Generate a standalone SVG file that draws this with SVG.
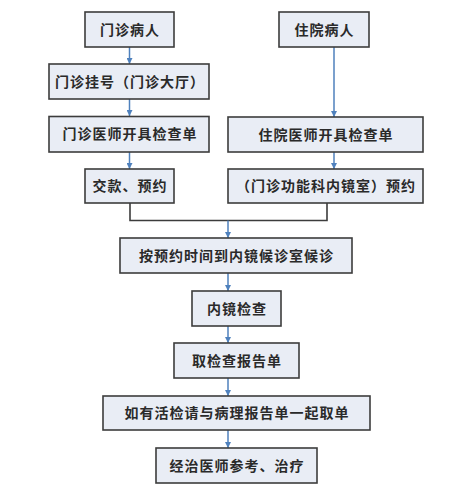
<svg xmlns="http://www.w3.org/2000/svg" width="464" height="492" viewBox="0 0 464 492">
<defs>
<style>
.box{fill:#e9edf5;stroke:#3c3c3c;stroke-width:1.6}
.t{font-family:"Noto Sans CJK SC","Noto Sans",sans-serif;font-size:14px;font-weight:bold;fill:#2a2a2a;text-anchor:middle;letter-spacing:1px}
.ln{fill:none;stroke:#3c3c3c;stroke-width:1.6}
.ar{fill:none;stroke:#4f81bd;stroke-width:1.5;marker-end:url(#ah)}
</style>
<marker id="ah" viewBox="0 0 10 10" refX="10" refY="5" markerWidth="4" markerHeight="4" orient="auto" markerUnits="strokeWidth">
<path d="M0,0 L10,5 L0,10 z" fill="#4f81bd"/>
</marker>
</defs>
<rect width="464" height="492" fill="#ffffff"/>
<g id="connectors">
<line class="ar" x1="129.5" y1="47" x2="129.5" y2="64"/>
<line class="ar" x1="129.5" y1="99" x2="129.5" y2="116"/>
<line class="ar" x1="129.5" y1="152" x2="129.5" y2="169"/>
<line class="ar" x1="334" y1="47" x2="334" y2="117"/>
<line class="ar" x1="334" y1="152" x2="334" y2="169"/>
<polyline class="ln" points="130,203 130,220.5 327,220.5 327,203"/>
<line class="ar" x1="228" y1="220.5" x2="228" y2="238"/>
<line class="ar" x1="228" y1="273" x2="228" y2="291"/>
<line class="ar" x1="228" y1="326" x2="228" y2="343"/>
<line class="ar" x1="228" y1="378" x2="228" y2="396"/>
<line class="ar" x1="228" y1="430" x2="228" y2="448"/>
</g>
<g id="n1"><rect class="box" x="85" y="12" width="89" height="35"/><text class="t" x="130" y="34.5">门诊病人</text></g>
<g id="n2"><rect class="box" x="49" y="64" width="160" height="35"/><text class="t" x="130" y="86.5">门诊挂号（门诊大厅）</text></g>
<g id="n3"><rect class="box" x="49" y="116.5" width="160" height="35.5"/><text class="t" x="130" y="139">门诊医师开具检查单</text></g>
<g id="n4"><rect class="box" x="85" y="169" width="89" height="34"/><text class="t" x="130" y="191">交款、预约</text></g>
<g id="n5"><rect class="box" x="279" y="12" width="90" height="35"/><text class="t" x="324.5" y="34.5">住院病人</text></g>
<g id="n6"><rect class="box" x="228" y="117" width="195" height="35"/><text class="t" x="326" y="139.5">住院医师开具检查单</text></g>
<g id="n7"><rect class="box" x="228" y="169" width="195" height="34"/><text class="t" x="326" y="191">（门诊功能科内镜室）预约</text></g>
<g id="n8"><rect class="box" x="120" y="238" width="232" height="35"/><text class="t" x="236.5" y="260.5">按预约时间到内镜候诊室候诊</text></g>
<g id="n9"><rect class="box" x="192" y="291" width="89" height="35"/><text class="t" x="237" y="313.5">内镜检查</text></g>
<g id="n10"><rect class="box" x="174" y="343" width="125" height="35"/><text class="t" x="237" y="365.5">取检查报告单</text></g>
<g id="n11"><rect class="box" x="103" y="396" width="267" height="34"/><text class="t" x="237" y="418">如有活检请与病理报告单一起取单</text></g>
<g id="n12"><rect class="box" x="156" y="448" width="161" height="35"/><text class="t" x="237" y="470.5">经治医师参考、治疗</text></g>
</svg>
